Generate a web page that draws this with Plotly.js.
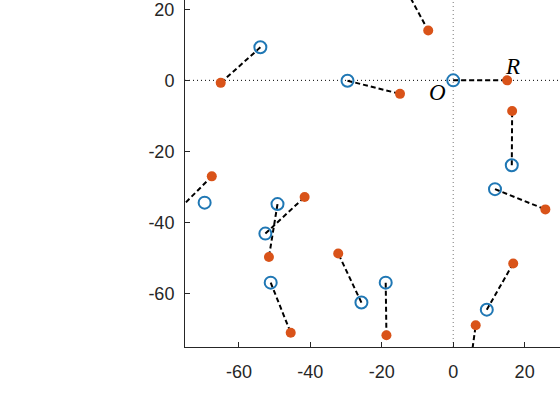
<!DOCTYPE html>
<html>
<head>
<meta charset="utf-8">
<script src="https://cdn.plot.ly/plotly-3.0.1.min.js"></script>
<style>html,body{margin:0;padding:0;background:#fff;}#chart{width:560px;height:420px;}</style>
</head>
<body>
<div id="chart"></div>
<script>
// Paired points: blue (origin markers) and orange (displaced markers)
const blueX   = [-54.0, -29.6, 0.0, -14.0, 16.4, 11.7, 9.4, 4.5, -18.9, -25.7, -51.1, -52.6, -49.2, -78.0];
const blueY   = [  9.3,  -0.1, 0.0,  27.0, -23.9, -30.6, -64.5, -82.0, -56.9, -62.5, -56.9, -43.1, -34.8, -37.5];
const orangeX = [-65.1, -14.9, 15.1,  -7.0, 16.5, 25.8, 16.8, 6.3, -18.7, -32.2, -45.5, -41.6, -51.6, -67.6];
const orangeY = [ -0.7,  -3.8,  0.0,  14.0, -8.6, -36.3, -51.5, -68.9, -71.7, -48.7, -71.0, -32.8, -49.7, -27.0];
// Unpaired blue marker
const loneBlueX = [-69.6];
const loneBlueY = [-34.4];
// Axis ticks
const xTicks = [-60, -40, -20, 0, 20];
const yTicks = [-60, -40, -20, 0, 20];

const lineX = [], lineY = [];
for (let i = 0; i < blueX.length; i++) {
  lineX.push(blueX[i], orangeX[i], null);
  lineY.push(blueY[i], orangeY[i], null);
}

const traces = [
  {x: lineX, y: lineY, mode: 'lines', type: 'scatter',
   line: {color: '#000000', width: 2, dash: '5px,3px'}, hoverinfo: 'skip'},
  {x: blueX.concat(loneBlueX), y: blueY.concat(loneBlueY), mode: 'markers', type: 'scatter',
   marker: {symbol: 'circle-open', size: 12, color: '#1f77b4', line: {width: 2, color: '#1c7bb8'}}},
  {x: orangeX, y: orangeY, mode: 'markers', type: 'scatter',
   marker: {symbol: 'circle', size: 10, color: '#D95319'}}
];

const fnt = {family: 'Liberation Sans, Arial, sans-serif', size: 18, color: '#262626'};
const layout = {
  width: 560, height: 420,
  margin: {l: 185, r: 0, t: 0, b: 73, pad: 0},
  paper_bgcolor: '#ffffff', plot_bgcolor: '#ffffff',
  showlegend: false,
  xaxis: {range: [-75.1, 29.9], tickvals: xTicks, ticktext: xTicks.map(String),
          showline: true, linecolor: '#262626', linewidth: 1, mirror: false,
          ticks: 'inside', ticklen: 5, tickcolor: '#262626', showgrid: false, zeroline: false,
          tickfont: fnt, ticklabelstandoff: 8, ticklabeloverflow: 'allow'},
  yaxis: {range: [-75.0, 22.6], tickvals: yTicks, ticktext: yTicks.map(String),
          showline: true, linecolor: '#262626', linewidth: 1, mirror: false,
          ticks: 'inside', ticklen: 5, tickcolor: '#262626', showgrid: false, zeroline: false,
          tickfont: fnt, ticklabelstandoff: 6, ticklabeloverflow: 'allow'},
  shapes: [
    {type: 'line', xref: 'paper', x0: 0, x1: 1, yref: 'y', y0: 0, y1: 0,
     line: {color: '#000000', width: 1, dash: '1px,3px'}, layer: 'below'},
    {type: 'line', yref: 'paper', y0: 0, y1: 1, xref: 'x', x0: 0, x1: 0,
     line: {color: '#777777', width: 1, dash: '1px,3px'}, layer: 'below'}
  ],
  annotations: [
    {x: orangeX[2], y: orangeY[2], xref: 'x', yref: 'y', text: '<i>R</i>', showarrow: false,
     xshift: 5, yshift: 14, font: {family: 'Liberation Serif, DejaVu Serif, serif', size: 23, color: '#000'}},
    {x: blueX[2], y: blueY[2], xref: 'x', yref: 'y', text: '<i>O</i>', showarrow: false,
     xshift: -16, yshift: -12, font: {family: 'Liberation Serif, DejaVu Serif, serif', size: 23, color: '#000'}}
  ]
};

Plotly.newPlot('chart', traces, layout, {displayModeBar: false, staticPlot: true});
</script>
</body>
</html>
